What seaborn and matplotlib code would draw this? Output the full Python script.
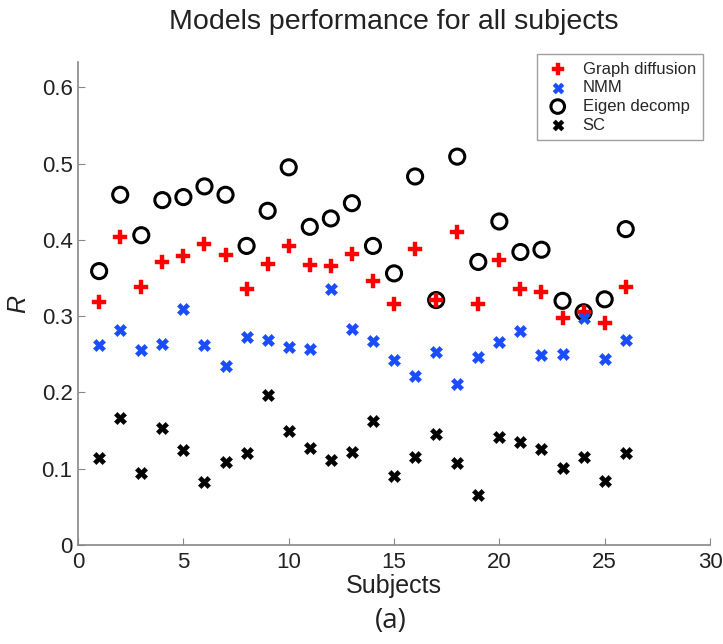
"""Scatter of model correlation R per subject for four models."""

import matplotlib

matplotlib.use("Agg")
import matplotlib.pyplot as plt  # noqa: E402
import pandas as pd  # noqa: E402
import seaborn as sns  # noqa: E402

subjects = list(range(1, 27))

graph_diffusion = [
    0.319, 0.404, 0.338, 0.371, 0.379, 0.394, 0.380, 0.336, 0.368, 0.392,
    0.367, 0.366, 0.381, 0.346, 0.316, 0.388, 0.321, 0.410, 0.316, 0.374,
    0.336, 0.332, 0.297, 0.306, 0.291, 0.338,
]
nmm = [
    0.262, 0.282, 0.255, 0.264, 0.309, 0.262, 0.234, 0.272, 0.269, 0.260,
    0.257, 0.335, 0.283, 0.267, 0.242, 0.221, 0.253, 0.211, 0.246, 0.266,
    0.281, 0.249, 0.250, 0.297, 0.244, 0.269,
]
eigen_decomp = [
    0.359, 0.459, 0.406, 0.452, 0.456, 0.470, 0.459, 0.392, 0.438, 0.495,
    0.417, 0.428, 0.448, 0.392, 0.356, 0.483, 0.321, 0.509, 0.371, 0.424,
    0.384, 0.387, 0.320, 0.305, 0.322, 0.414,
]
sc = [
    0.114, 0.167, 0.095, 0.153, 0.125, 0.082, 0.109, 0.120, 0.197, 0.150,
    0.127, 0.111, 0.122, 0.163, 0.090, 0.115, 0.145, 0.108, 0.066, 0.142,
    0.135, 0.126, 0.101, 0.116, 0.084, 0.120,
]

x_ticks = [0, 5, 10, 15, 20, 25, 30]
y_ticks = [0, 0.1, 0.2, 0.3, 0.4, 0.5, 0.6]
y_tick_labels = ["0", "0.1", "0.2", "0.3", "0.4", "0.5", "0.6"]

sns.set_style("ticks")
plt.rcParams["font.family"] = ["Liberation Sans", "DejaVu Sans"]

df = pd.DataFrame({
    "subject": subjects,
    "Graph diffusion": graph_diffusion,
    "NMM": nmm,
    "Eigen decomp": eigen_decomp,
    "SC": sc,
})

fig = plt.figure(figsize=(7.23, 6.44), dpi=100)
ax = fig.add_axes([0.108, 0.1537, 0.874, 0.75])

sns.scatterplot(data=df, x="subject", y="Graph diffusion", marker="P", s=95,
                color="#ff0000", edgecolor="#ff0000", linewidth=0.3,
                label="Graph diffusion", ax=ax, zorder=3)
sns.scatterplot(data=df, x="subject", y="NMM", marker="X", s=78,
                color="#1a4dff", edgecolor="#1a4dff", linewidth=0.3,
                label="NMM", ax=ax, zorder=3)
sns.scatterplot(data=df, x="subject", y="Eigen decomp", marker="o", s=118,
                facecolor="none", edgecolor="black", linewidth=2.2,
                label="Eigen decomp", ax=ax, zorder=2)
sns.scatterplot(data=df, x="subject", y="SC", marker="X", s=78,
                color="black", edgecolor="black", linewidth=0.3,
                label="SC", ax=ax, zorder=3)

ax.set_xlim(0, 30)
ax.set_ylim(0, 0.633)
ax.set_xticks(x_ticks)
ax.set_xticklabels([str(t) for t in x_ticks])
ax.set_yticks(y_ticks)
ax.set_yticklabels(y_tick_labels)
ax.tick_params(direction="in", length=5, width=0.8, color="#888888",
               labelsize=16, labelcolor="#222222")
ax.tick_params(axis="x", pad=5)
ax.tick_params(axis="y", pad=4)

sns.despine(ax=ax)
for side in ("left", "bottom"):
    ax.spines[side].set_color("#888888")
    ax.spines[side].set_linewidth(1.2)

ax.set_xlabel("Subjects", fontsize=18, color="#222222", labelpad=1)
ax.set_ylabel("R", fontsize=18, style="italic", color="#222222", labelpad=8)
ax.set_title("Models performance for all subjects", fontsize=20.5,
             color="#222222", pad=24)

leg = ax.legend(loc="upper right", bbox_to_anchor=(0.973, 0.916),
                bbox_transform=fig.transFigure, borderaxespad=0,
                fontsize=12, frameon=True, fancybox=False,
                handletextpad=0.7, labelspacing=0.22, borderpad=0.45,
                handlelength=1.6, markerscale=0.9)
leg.get_frame().set_edgecolor("#888888")
leg.get_frame().set_linewidth(1.0)

fig.text(0.54, 0.036, "(a)", fontsize=20, ha="center", va="center",
         color="#222222", family=["Open Sans", "DejaVu Sans"])

fig.savefig("out.png", dpi=100)
